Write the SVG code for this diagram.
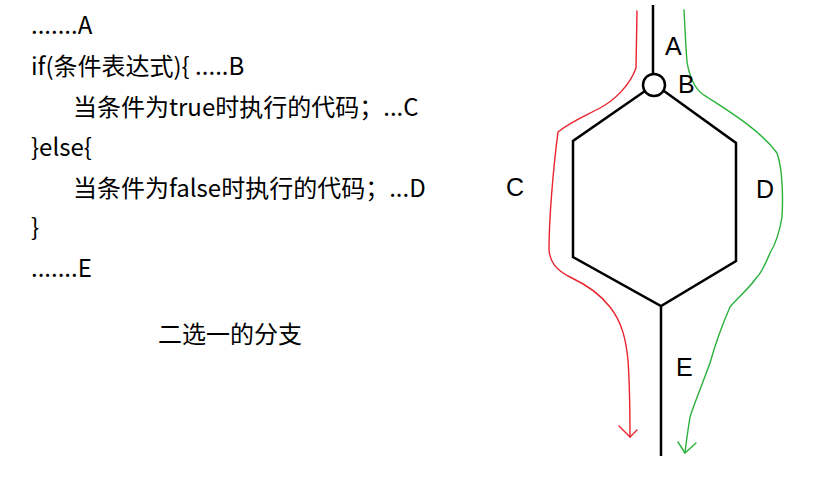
<svg xmlns="http://www.w3.org/2000/svg" width="837" height="485" viewBox="0 0 837 485">
<style>
.t{font-family:"Noto Sans CJK SC","Liberation Sans",sans-serif;font-size:24px;fill:#000}
.l{font-family:"Liberation Sans","Noto Sans CJK SC",sans-serif;font-size:25px;fill:#000}
.k{fill:none;stroke:#000;stroke-width:2.5;stroke-linejoin:miter}
.r{fill:none;stroke:#e8232b;stroke-width:1.4;stroke-linecap:round;stroke-linejoin:round}
.g{fill:none;stroke:#29b13a;stroke-width:1.4;stroke-linecap:round;stroke-linejoin:round}
</style>
<rect width="837" height="485" fill="#fff"/>
<g id="code">
<text class="t" x="31" y="34">.......A</text>
<text class="t" x="31" y="75">if(条件表达式){ .....B</text>
<text class="t" x="73" y="116">当条件为true时执行的代码；...C</text>
<text class="t" x="31" y="156">}else{</text>
<text class="t" x="73" y="197">当条件为false时执行的代码；...D</text>
<text class="t" x="31" y="236">}</text>
<text class="t" x="31" y="277">.......E</text>
<text class="t" x="158" y="343">二选一的分支</text>
</g>
<g id="flow">
<path class="k" d="M653,5 V74"/>
<circle id="nodeB" class="k" cx="654" cy="85" r="11" fill="#fff"/>
<path class="k" d="M645,91 L573,141 V257 L661,306 L736,261 V143 L664,91"/>
<path class="k" d="M661,306 V456"/>
</g>
<g id="connectors">
<path class="r" d="M637,11 L636,68 C630,85 615,100 600,108 C585,116 570,122 558,132 C553,170 549,220 549,250 C550,262 556,270 570,277 C585,284 600,294 610,307 C622,322 626,340 628,360 C630,390 630,415 630,437"/>
<path class="r" d="M619,426 L630,437 L637,430"/>
<path class="g" d="M684,10 C685,30 686,50 687,62 C690,80 697,92 707,97 C730,112 760,130 777,153 C783,170 783,200 782,217 C779,235 775,245 770,253 C765,265 762,272 757,277 C748,290 738,297 730,307 C720,330 715,345 710,363 C700,390 692,410 690,417 C688,430 686,443 685,453"/>
<path class="g" d="M678,442 L685,453 L696,443"/>
</g>
<g id="labels">
<text class="l" x="665" y="55">A</text>
<text class="l" x="678" y="93">B</text>
<text class="l" x="506" y="196">C</text>
<text class="l" x="756" y="198">D</text>
<text class="l" x="676" y="376">E</text>
</g>
</svg>
